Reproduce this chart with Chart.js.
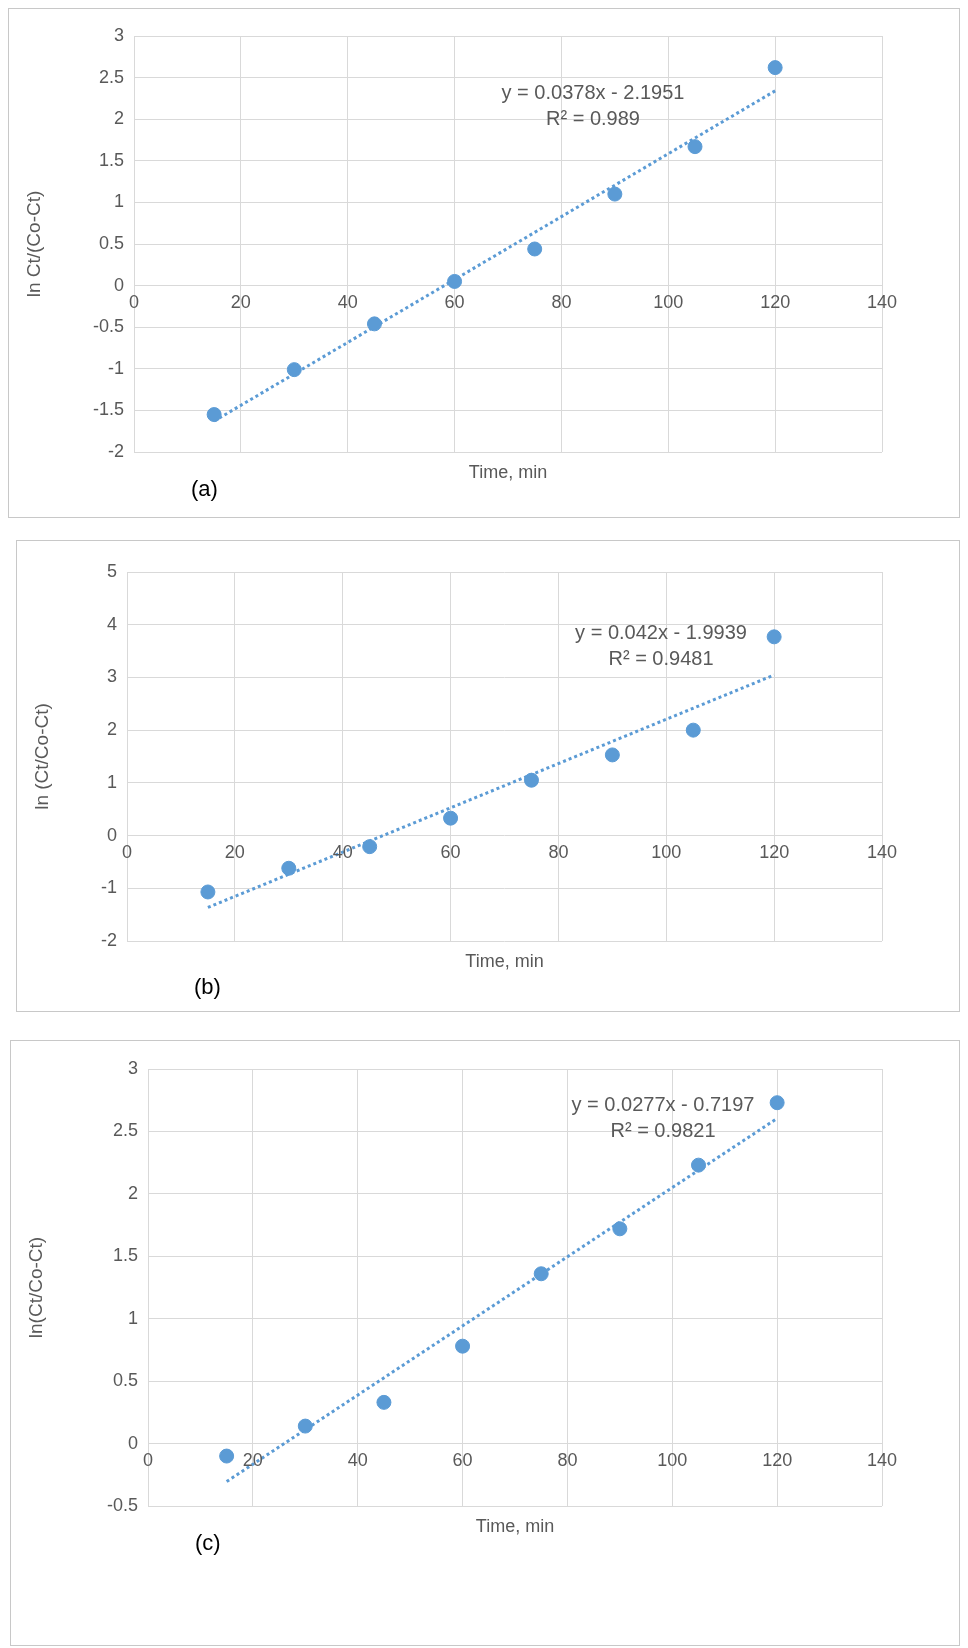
<!DOCTYPE html>
<html><head><meta charset="utf-8">
<script src="https://cdn.jsdelivr.net/npm/chart.js@4"></script>
<style>
body{margin:0;background:#fff;width:968px;height:1648px;position:relative;font-family:"Liberation Sans",Arial,sans-serif}
.box{position:absolute;border:1px solid #c8c8c8;box-sizing:border-box}
</style></head><body>
<div class="box" style="left:8px;top:8px;width:952px;height:510px"><canvas id="ca"></canvas></div>
<div class="box" style="left:16px;top:540px;width:944px;height:472px"><canvas id="cb"></canvas></div>
<div class="box" style="left:10px;top:1040px;width:950px;height:606px"><canvas id="cc"></canvas></div>
<script>
// ----- Data -----
const times = [15, 30, 45, 60, 75, 90, 105, 120];
const xTicks = [0, 20, 40, 60, 80, 100, 120, 140];
const valsA = [-1.55, -1.01, -0.46, 0.05, 0.44, 1.10, 1.67, 2.62];
const valsB = [-1.07, -0.62, -0.21, 0.33, 1.05, 1.53, 2.00, 3.77];
const valsC = [-0.10, 0.14, 0.33, 0.78, 1.36, 1.72, 2.23, 2.73];
const fitA = [0.0378, -2.1951], fitB = [0.042, -1.9939], fitC = [0.0277, -0.7197];

const BLUE = "#5B9BD5", TXT = "#595959";

function makeChart(id, box, g) {
  const canvas = document.getElementById(id);
  canvas.width = box.w; canvas.height = box.h;
  canvas.style.width = box.w + "px"; canvas.style.height = box.h + "px";
  const trend = [times[0], times[times.length - 1]].map(x => ({ x, y: g.fit[0] * x + g.fit[1] }));
  const extras = {
    id: "extras",
    afterDraw(chart) {
      const ctx = chart.ctx, xs = chart.scales.x, ys = chart.scales.y;
      const y0 = ys.getPixelForValue(0);
      ctx.save();
      ctx.fillStyle = TXT;
      ctx.font = "18px 'Liberation Sans', Arial";
      ctx.textAlign = "center"; ctx.textBaseline = "top";
      xTicks.forEach(t => ctx.fillText(String(t), xs.getPixelForValue(t), y0 + 8));
      ctx.fillText("Time, min", (xs.left + xs.right) / 2, ys.bottom + 12);
      ctx.font = "20px 'Liberation Sans', Arial";
      ctx.fillText(g.eq1, g.eqX, g.eqY);
      ctx.fillText(g.eq2, g.eqX, g.eqY + 26);
      ctx.fillStyle = "#000";
      ctx.font = "22px 'Liberation Sans', Arial";
      ctx.textAlign = "left";
      ctx.fillText(g.tag, g.tagX, g.tagY);
      ctx.restore();
    }
  };
  return new Chart(canvas, {
    type: "scatter",
    data: {
      datasets: [
        { data: times.map((x, i) => ({ x, y: g.vals[i] })), backgroundColor: BLUE, borderColor: BLUE, pointRadius: 7 },
        { type: "line", data: trend, borderColor: BLUE, borderWidth: 3, borderDash: [3, 3], pointRadius: 0, fill: false }
      ]
    },
    options: {
      responsive: false, animation: false,
      layout: { padding: { left: 10, top: g.top, right: g.right, bottom: 0 } },
      plugins: { legend: { display: false }, tooltip: { enabled: false } },
      scales: {
        x: {
          type: "linear", min: 0, max: 140,
          afterFit: s => { s.height = g.bottom; },
          afterBuildTicks: s => { s.ticks = xTicks.map(v => ({ value: v })); },
          ticks: { display: false },
          grid: { color: "#d9d9d9", drawTicks: false },
          border: { display: false }
        },
        y: {
          min: g.ymin, max: g.ymax,
          afterFit: s => { s.width = g.yw; },
          ticks: { stepSize: g.step, color: TXT, font: { size: 18, family: "'Liberation Sans', Arial" }, padding: 10,
                   callback: v => String(Math.round(v * 10) / 10) },
          grid: { color: "#d9d9d9", drawTicks: false },
          border: { display: false },
          title: { display: true, text: g.ytitle, color: TXT, font: { size: 19, family: "'Liberation Sans', Arial" } }
        }
      }
    },
    plugins: [extras]
  });
}

makeChart("ca", { w: 950, h: 508 }, {
  vals: valsA, fit: fitA, ymin: -2, ymax: 3, step: 0.5, ytitle: "ln Ct/(Co-Ct)",
  top: 27, right: 77, bottom: 65, yw: 115,
  eq1: "y = 0.0378x - 2.1951", eq2: "R² = 0.989", eqX: 584, eqY: 74,
  tag: "(a)", tagX: 182, tagY: 470
});
makeChart("cb", { w: 942, h: 470 }, {
  vals: valsB, fit: fitB, ymin: -2, ymax: 5, step: 1, ytitle: "ln (Ct/Co-Ct)",
  top: 31, right: 77, bottom: 70, yw: 100,
  eq1: "y = 0.042x - 1.9939", eq2: "R² = 0.9481", eqX: 644, eqY: 82,
  tag: "(b)", tagX: 177, tagY: 436
});
makeChart("cc", { w: 948, h: 604 }, {
  vals: valsC, fit: fitC, ymin: -0.5, ymax: 3, step: 0.5, ytitle: "ln(Ct/Co-Ct)",
  top: 28, right: 77, bottom: 139, yw: 127,
  eq1: "y = 0.0277x - 0.7197", eq2: "R² = 0.9821", eqX: 652, eqY: 54,
  tag: "(c)", tagX: 184, tagY: 492
});
</script>
</body></html>
